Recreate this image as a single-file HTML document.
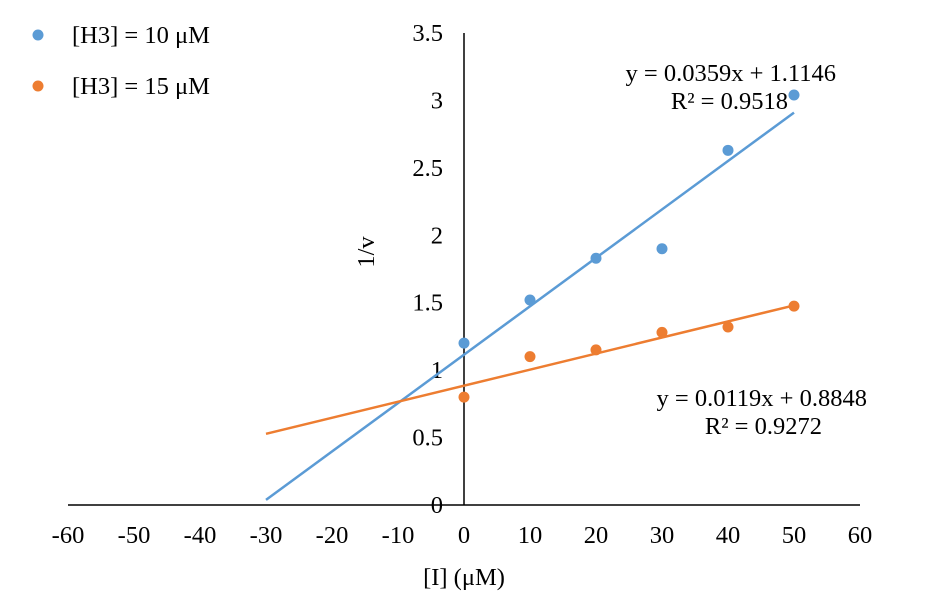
<!DOCTYPE html>
<html><head><meta charset="utf-8"><style>
html,body{margin:0;padding:0;background:#fff;}
svg text{font-family:"Liberation Serif",serif;font-size:24.5px;fill:#000;}
</style></head><body>
<svg id="chart" width="931" height="596">
<g id="axes"></g><g id="marks"></g>
<text x="374" y="252" text-anchor="middle" transform="rotate(-90 374 252)">1/v</text>
<text x="464" y="585" text-anchor="middle">[I] (μM)</text>
<circle cx="38" cy="35" r="5.5" fill="#5b9bd5"/>
<text x="72" y="43">[H3] = 10 μM</text>
<circle cx="38" cy="86" r="5.5" fill="#ed7d31"/>
<text x="72" y="94">[H3] = 15 μM</text>
<text x="836" y="81" text-anchor="end">y = 0.0359x + 1.1146</text>
<text x="788" y="109" text-anchor="end">R² = 0.9518</text>
<text x="867" y="406" text-anchor="end">y = 0.0119x + 0.8848</text>
<text x="822" y="434" text-anchor="end">R² = 0.9272</text>
</svg>
<script>
const xCats = [0, 10, 20, 30, 40, 50];
const blueVals = [1.20, 1.52, 1.83, 1.90, 2.63, 3.04];
const orangeVals = [0.80, 1.10, 1.15, 1.28, 1.32, 1.475];
const blueFit = [0.0359, 1.1146];
const orangeFit = [0.0119, 0.8848];
const fitRange = [-30, 50];
const xTicks = [-60,-50,-40,-30,-20,-10,0,10,20,30,40,50,60];
const yTicks = [0,0.5,1,1.5,2,2.5,3,3.5];
const NS="http://www.w3.org/2000/svg";
const X=v=>464+v*6.6, Y=v=>505-v*134.86;
function mk(parent,tag,attrs){const e=document.createElementNS(NS,tag);for(const k in attrs)e.setAttribute(k,attrs[k]);parent.appendChild(e);return e;}
const ax=document.getElementById('axes'), mg=document.getElementById('marks');
let l=mk(ax,'line',{x1:X(-60),x2:X(60),y1:Y(0),y2:Y(0),stroke:'#000','stroke-width':1.5});


l=mk(ax,'line',{x1:X(0),x2:X(0),y1:Y(3.5),y2:Y(0),stroke:'#000','stroke-width':1.5});


xTicks.forEach(t=>{const e=mk(ax,'text',{x:X(t),y:543,'text-anchor':'middle'});e.textContent=t;

});
yTicks.forEach(t=>{const e=mk(ax,'text',{x:443,y:Y(t)+8,'text-anchor':'end'});e.textContent=t;

});
function fit(f,c,n){const e=mk(mg,'line',{x1:X(fitRange[0]),y1:Y(f[0]*fitRange[0]+f[1]),x2:X(fitRange[1]),y2:Y(f[0]*fitRange[1]+f[1]),stroke:c,'stroke-width':2.5});

}
fit(blueFit,'#5b9bd5','blue-trendline');fit(orangeFit,'#ed7d31','orange-trendline');
function pts(v,c,n){v.forEach((y,i)=>{const e=mk(mg,'circle',{cx:X(xCats[i]),cy:Y(y),r:5.5,fill:c});

});}
pts(blueVals,'#5b9bd5','blue-point');pts(orangeVals,'#ed7d31','orange-point');
</script>
</body></html>
